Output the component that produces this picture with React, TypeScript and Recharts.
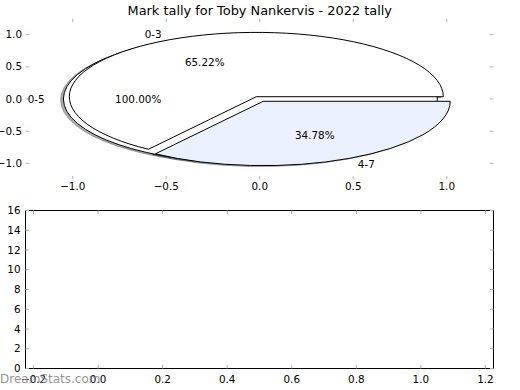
import React from 'react';
import { ScatterChart, Scatter, PieChart, Pie, XAxis, YAxis } from 'recharts';

// marks in each bucket (15 of 23, 8 of 23)
const tallyNames = ['0-3', '4-7'];
const tallyCounts = [15, 8];
const tallyColours = ['#ffffff', '#eaf0fc'];

// second pie drawn underneath: everything in a single bucket
const totalNames = ['0-5'];
const totalCounts = [23];
const totalColours = ['#ffffff'];

const pieTicks = [-1, -0.5, 0, 0.5, 1];
const barXTicks = [-0.2, 0, 0.2, 0.4, 0.6, 0.8, 1, 1.2];
const barYTicks = [0, 2, 4, 6, 8, 10, 12, 14, 16];

const W = 520;
const FONT = 'DejaVu Sans';
const FS = 10.4;
const TICK_GREY = '#b0b0b0';
const TICK_LEN = 3.5;

// top panel layout
const PIE_H = 200;
const PIE_BOX = { left: 26, right: 493.5, top: 18.6, bottom: 179.4 };
const PIE_LIM = 1.25;
const RX = (PIE_BOX.right - PIE_BOX.left) / (2 * PIE_LIM);
const RY = (PIE_BOX.bottom - PIE_BOX.top) / (2 * PIE_LIM);
const PIE_CX = PIE_BOX.left + RX * PIE_LIM;
const PIE_CY = PIE_BOX.top + RY * PIE_LIM;
const SHADOW = 0.015;

// bottom panel layout (y relative to its own chart)
const BAR_TOP = 200;
const BAR_H = 190;
const BAR_BOX = { left: 25.5, right: 493.5, top: 10.5, bottom: 168.5 };

const tallyData = tallyNames.map((name, i) => ({ name, value: tallyCounts[i] }));
const totalData = totalNames.map((name, i) => ({ name, value: totalCounts[i] }));

const fmt1 = (v: number) => (v < 0 ? '\u2212' : '') + Math.abs(v).toFixed(1);
const fmt0 = (v: number) => String(v);

type Side = 'top' | 'bottom' | 'left' | 'right';

function makeTick(side: Side, fmt?: (v: number) => string, gap = 0) {
  return (p: any) => {
    const { x, y, payload } = p;
    const v = payload.value;
    let mark;
    let label = null;
    if (side === 'bottom') {
      mark = <line x1={x} y1={y} x2={x} y2={y - TICK_LEN} stroke={TICK_GREY} />;
      if (fmt)
        label = (
          <text x={x} y={y + gap} textAnchor="middle" fontSize={FS} fontFamily={FONT} fill="#000">
            {fmt(v)}
          </text>
        );
    } else if (side === 'top') {
      mark = <line x1={x} y1={y} x2={x} y2={y + TICK_LEN} stroke={TICK_GREY} />;
    } else if (side === 'left') {
      mark = <line x1={x} y1={y} x2={x + TICK_LEN} y2={y} stroke={TICK_GREY} />;
      if (fmt)
        label = (
          <text x={x - gap} y={y} dy="0.35em" textAnchor="end" fontSize={FS} fontFamily={FONT} fill="#000">
            {fmt(v)}
          </text>
        );
    } else {
      mark = <line x1={x} y1={y} x2={x - TICK_LEN} y2={y} stroke={TICK_GREY} />;
    }
    return (
      <g>
        {mark}
        {label}
      </g>
    );
  };
}

// elliptical wedge, angles in degrees counter-clockwise from 3 o'clock
function wedgePath(cx: number, cy: number, rx: number, ry: number, a0: number, a1: number) {
  const rad = Math.PI / 180;
  if (Math.abs(a1 - a0) >= 359.99) {
    return `M ${cx + rx} ${cy} A ${rx} ${ry} 0 1 0 ${cx - rx} ${cy} A ${rx} ${ry} 0 1 0 ${cx + rx} ${cy} Z`;
  }
  const x0 = cx + rx * Math.cos(a0 * rad);
  const y0 = cy - ry * Math.sin(a0 * rad);
  const x1 = cx + rx * Math.cos(a1 * rad);
  const y1 = cy - ry * Math.sin(a1 * rad);
  const large = Math.abs(a1 - a0) > 180 ? 1 : 0;
  const sweep = a1 > a0 ? 0 : 1;
  return `M ${cx} ${cy} L ${x0} ${y0} A ${rx} ${ry} 0 ${large} ${sweep} ${x1} ${y1} Z`;
}

function wedgeLayer(kind: 'shadow' | 'face' | 'text', explode: number, colours: string[]) {
  return (p: any) => {
    const rx = p.outerRadius;
    const ry = rx * (RY / RX);
    const m = (p.midAngle * Math.PI) / 180;
    const cx = p.cx + explode * rx * Math.cos(m);
    const cy = p.cy - explode * ry * Math.sin(m);
    if (kind === 'shadow') {
      return (
        <path
          d={wedgePath(cx - SHADOW * rx, cy + SHADOW * ry, rx, ry, p.startAngle, p.endAngle)}
          fill="#4d4d4d"
          fillOpacity={0.45}
          stroke="#4d4d4d"
          strokeOpacity={0.45}
        />
      );
    }
    if (kind === 'face') {
      return (
        <path
          d={wedgePath(cx, cy, rx, ry, p.startAngle, p.endAngle)}
          fill={colours[p.index]}
          stroke="#000"
          strokeWidth={1}
        />
      );
    }
    const c = Math.cos(m);
    const s = Math.sin(m);
    return (
      <g fontSize={FS} fontFamily={FONT} fill="#000">
        <text x={cx + 1.1 * rx * c} y={cy - 1.1 * ry * s} dy="0.35em" textAnchor={c > 0 ? 'start' : 'end'}>
          {p.name}
        </text>
        <text x={cx + 0.6 * rx * c} y={cy - 0.6 * ry * s} dy="0.35em" textAnchor="middle">
          {(p.percent * 100).toFixed(2)}%
        </text>
      </g>
    );
  };
}

function pieLayer(key: string, data: any[], kind: 'shadow' | 'face' | 'text', explode: number, colours: string[]) {
  return (
    <Pie
      key={key}
      data={data}
      dataKey="value"
      nameKey="name"
      cx={PIE_CX}
      cy={PIE_CY}
      innerRadius={0}
      outerRadius={RX}
      startAngle={0}
      endAngle={360}
      fill="none"
      stroke="none"
      legendType="none"
      labelLine={false}
      label={wedgeLayer(kind, explode, colours)}
      isAnimationActive={false}
    />
  );
}

// four axes with inward ticks; only bottom and left carry labels
function frameAxes(
  xDomain: [number, number],
  xTicks: number[],
  yDomain: [number, number],
  yTicks: number[],
  box: { left: number; right: number; top: number; bottom: number },
  height: number,
  spine: boolean,
  xFmt: (v: number) => string,
  yFmt: (v: number) => string,
  xGap: number,
  yGap: number
) {
  const line = spine ? { stroke: '#000', strokeWidth: 1 } : false;
  const common = { type: 'number' as const, interval: 0 as const, allowDataOverflow: true, tickLine: false, tickSize: 0, tickMargin: 0, axisLine: line };
  return [
    <XAxis key="xb" xAxisId="b" dataKey="x" domain={xDomain} ticks={xTicks} height={height - box.bottom} tick={makeTick('bottom', xFmt, xGap)} {...common} />,
    <XAxis key="xt" xAxisId="t" dataKey="x" orientation="top" domain={xDomain} ticks={xTicks} height={box.top} tick={makeTick('top')} {...common} />,
    <YAxis key="yl" yAxisId="l" dataKey="y" domain={yDomain} ticks={yTicks} width={box.left} tick={makeTick('left', yFmt, yGap)} {...common} />,
    <YAxis key="yr" yAxisId="r" dataKey="y" orientation="right" domain={yDomain} ticks={yTicks} width={W - box.right} tick={makeTick('right')} {...common} />,
    <Scatter key="s" xAxisId="b" yAxisId="l" data={[]} isAnimationActive={false} />,
  ];
}

export default function App() {
  return (
    <div style={{ position: 'absolute', left: 0, top: 0, width: W, height: 390, background: '#fff' }}>
      <div style={{ position: 'absolute', left: 0, top: 0 }}>
        <ScatterChart width={W} height={PIE_H} margin={{ top: 0, right: 0, bottom: 0, left: 0 }}>
          {frameAxes([-PIE_LIM, PIE_LIM], pieTicks, [-PIE_LIM, PIE_LIM], pieTicks, PIE_BOX, PIE_H, false, fmt1, fmt1, 10.6, 4)}
        </ScatterChart>
      </div>

      <div style={{ position: 'absolute', left: 0, top: 0 }}>
        <PieChart width={W} height={PIE_H} margin={{ top: 0, right: 0, bottom: 0, left: 0 }}>
          {pieLayer('sa', totalData, 'shadow', 0.05, totalColours)}
          {pieLayer('sb', tallyData, 'shadow', 0.04, tallyColours)}
          {pieLayer('fa', totalData, 'face', 0.05, totalColours)}
          {pieLayer('fb', tallyData, 'face', 0.04, tallyColours)}
          {pieLayer('ta', totalData, 'text', 0.05, totalColours)}
          {pieLayer('tb', tallyData, 'text', 0.04, tallyColours)}
        </PieChart>
      </div>

      <div style={{ position: 'absolute', left: 0, top: BAR_TOP }}>
        <ScatterChart width={W} height={BAR_H} margin={{ top: 0, right: 0, bottom: 0, left: 0 }}>
          {frameAxes([-0.225, 1.225], barXTicks, [0, 16], barYTicks, BAR_BOX, BAR_H, true, fmt1, fmt0, 14.2, 5)}
        </ScatterChart>
      </div>

      <svg width={W} height={390} style={{ position: 'absolute', left: 0, top: 0, pointerEvents: 'none' }}>
        <text x={PIE_CX} y={14.5} textAnchor="middle" fontSize={12.9} fontFamily={FONT} fill="#000">
          Mark tally for Toby Nankervis - 2022 tally
        </text>
        <text x={0} y={383} fontSize={12} fontFamily={FONT} fill="#808080" fillOpacity={0.85}>
          DreamStats.com
        </text>
      </svg>
    </div>
  );
}
